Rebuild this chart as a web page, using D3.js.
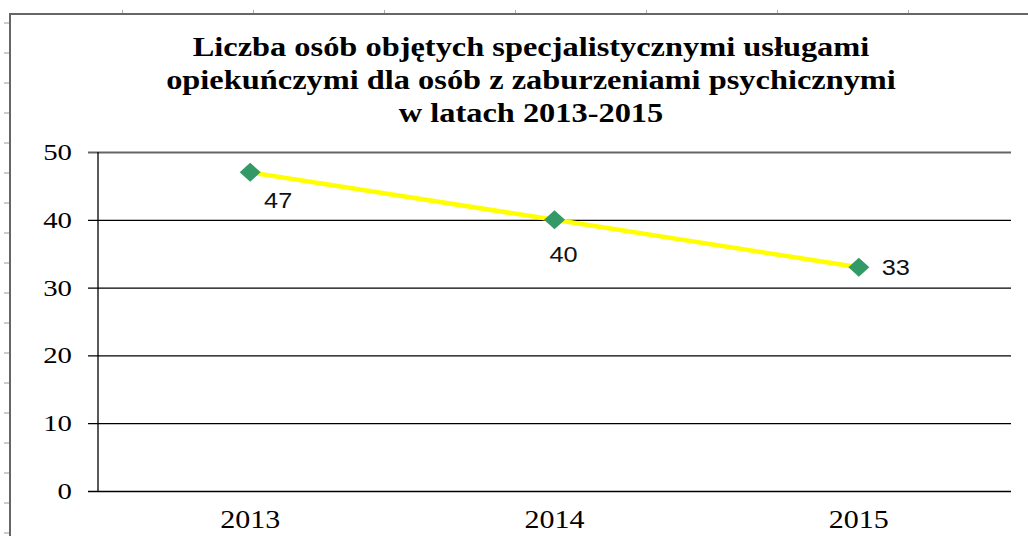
<!DOCTYPE html>
<html>
<head>
<meta charset="utf-8">
<script src="https://cdn.jsdelivr.net/npm/d3@7"></script>
<style>
  html, body { margin: 0; background: #fff; overflow: hidden; }
  svg { display: block; }
</style>
</head>
<body>
<svg id="chart"></svg>
<script>
// chart data
var years = ["2013", "2014", "2015"];
var values = [47, 40, 33];
var yTicks = [0, 10, 20, 30, 40, 50];
var titleLines = [
  "Liczba osób objętych specjalistycznymi usługami",
  "opiekuńczymi dla osób z zaburzeniami psychicznymi",
  "w latach 2013-2015"
];

var W = 1028, H = 536;
var margin = { top: 152, right: 17, bottom: 45, left: 98 };
var width = W - margin.left - margin.right,
    height = H - margin.top - margin.bottom;
var sx = 1.2; // picture is stretched horizontally

var svg = d3.select("#chart").attr("width", W).attr("height", H);

// outer frame (runs off right and bottom)
svg.append("path")
  .attr("d", "M10," + (H + 5) + " L10,14 L" + (W + 5) + ",14")
  .attr("fill", "none")
  .attr("stroke", "#666")
  .attr("stroke-width", 2);

// small ruler marks on the frame
d3.range(23, 536, 30).forEach(function(y) {
  svg.append("line")
    .attr("x1", 4).attr("x2", 9).attr("y1", y).attr("y2", y)
    .attr("stroke", "#999").attr("stroke-width", 1);
});
d3.range(0, 7).forEach(function(i) {
  var x = 122.5 + i * 131;
  svg.append("line")
    .attr("x1", x).attr("x2", x).attr("y1", 10).attr("y2", 13)
    .attr("stroke", "#aaa").attr("stroke-width", 1);
});

// title
var titleY = [56, 89, 122];
titleLines.forEach(function(t, i) {
  svg.append("text")
    .attr("transform", "translate(531," + titleY[i] + ") scale(" + sx + ",1)")
    .attr("text-anchor", "middle")
    .style("font-family", "'Liberation Serif', 'Times New Roman', serif")
    .style("font-weight", "bold")
    .style("font-size", "27px")
    .text(t);
});

var g = svg.append("g")
  .attr("transform", "translate(" + margin.left + "," + margin.top + ")");

var x = d3.scaleBand().domain(years).range([0, width]);
var y = d3.scaleLinear().domain([0, 50]).range([height, 0]);

// gridlines with outward ticks
var yAxis = g.append("g")
  .call(d3.axisLeft(y).tickValues(yTicks).tickSize(-width).tickPadding(0).tickFormat(""));
yAxis.select(".domain").remove();
yAxis.selectAll(".tick line")
  .attr("x1", -10)
  .attr("stroke", function(d) { return d == 50 ? "#666" : "#000"; })
  .attr("stroke-width", function(d) { return d == 50 ? 2 : 1.3; });

// y tick labels
yTicks.forEach(function(v) {
  g.append("text")
    .attr("transform", "translate(-26," + (y(v) + 8) + ") scale(" + sx + ",1)")
    .attr("text-anchor", "end")
    .style("font-family", "'Liberation Serif', 'Times New Roman', serif")
    .style("font-size", "24px")
    .text(v);
});

// vertical axis line
g.append("line")
  .attr("x1", 0).attr("x2", 0)
  .attr("y1", y(50)).attr("y2", y(0))
  .attr("stroke", "#000").attr("stroke-width", 1.3);

// x labels
years.forEach(function(yr) {
  g.append("text")
    .attr("transform", "translate(" + (x(yr) + x.bandwidth() / 2) + "," + (height + 37) + ") scale(" + sx + ",1)")
    .attr("text-anchor", "middle")
    .style("font-family", "'Liberation Serif', 'Times New Roman', serif")
    .style("font-size", "25px")
    .text(yr);
});

var pts = years.map(function(yr, i) { return { x: yr, y: values[i] }; });

// line
var line = d3.line()
  .x(function(d) { return x(d.x) + x.bandwidth() / 2; })
  .y(function(d) { return y(d.y); });
g.append("path")
  .datum(pts)
  .attr("d", line)
  .attr("fill", "none")
  .attr("stroke", "#ffff00")
  .attr("stroke-width", 4.5);

// diamond markers
g.selectAll(".mark")
  .data(pts)
  .enter()
  .append("path")
  .attr("class", "mark")
  .attr("d", "M0,-9.5 L10.5,0 L0,9.5 L-10.5,0 Z")
  .attr("transform", function(d) {
    return "translate(" + (x(d.x) + x.bandwidth() / 2) + "," + y(d.y) + ")";
  })
  .attr("fill", "#339966");

// data labels
var labelOff = [{ dx: 28, dy: 36 }, { dx: 9, dy: 42 }, { dx: 37, dy: 8 }];
pts.forEach(function(d, i) {
  g.append("text")
    .attr("transform", "translate(" + (x(d.x) + x.bandwidth() / 2 + labelOff[i].dx) + "," + (y(d.y) + labelOff[i].dy) + ") scale(1.15,1)")
    .attr("text-anchor", "middle")
    .style("font-family", "'Liberation Sans', Arial, sans-serif")
    .style("font-size", "22px")
    .style("fill", "#111")
    .text(d.y);
});
</script>
</body>
</html>
